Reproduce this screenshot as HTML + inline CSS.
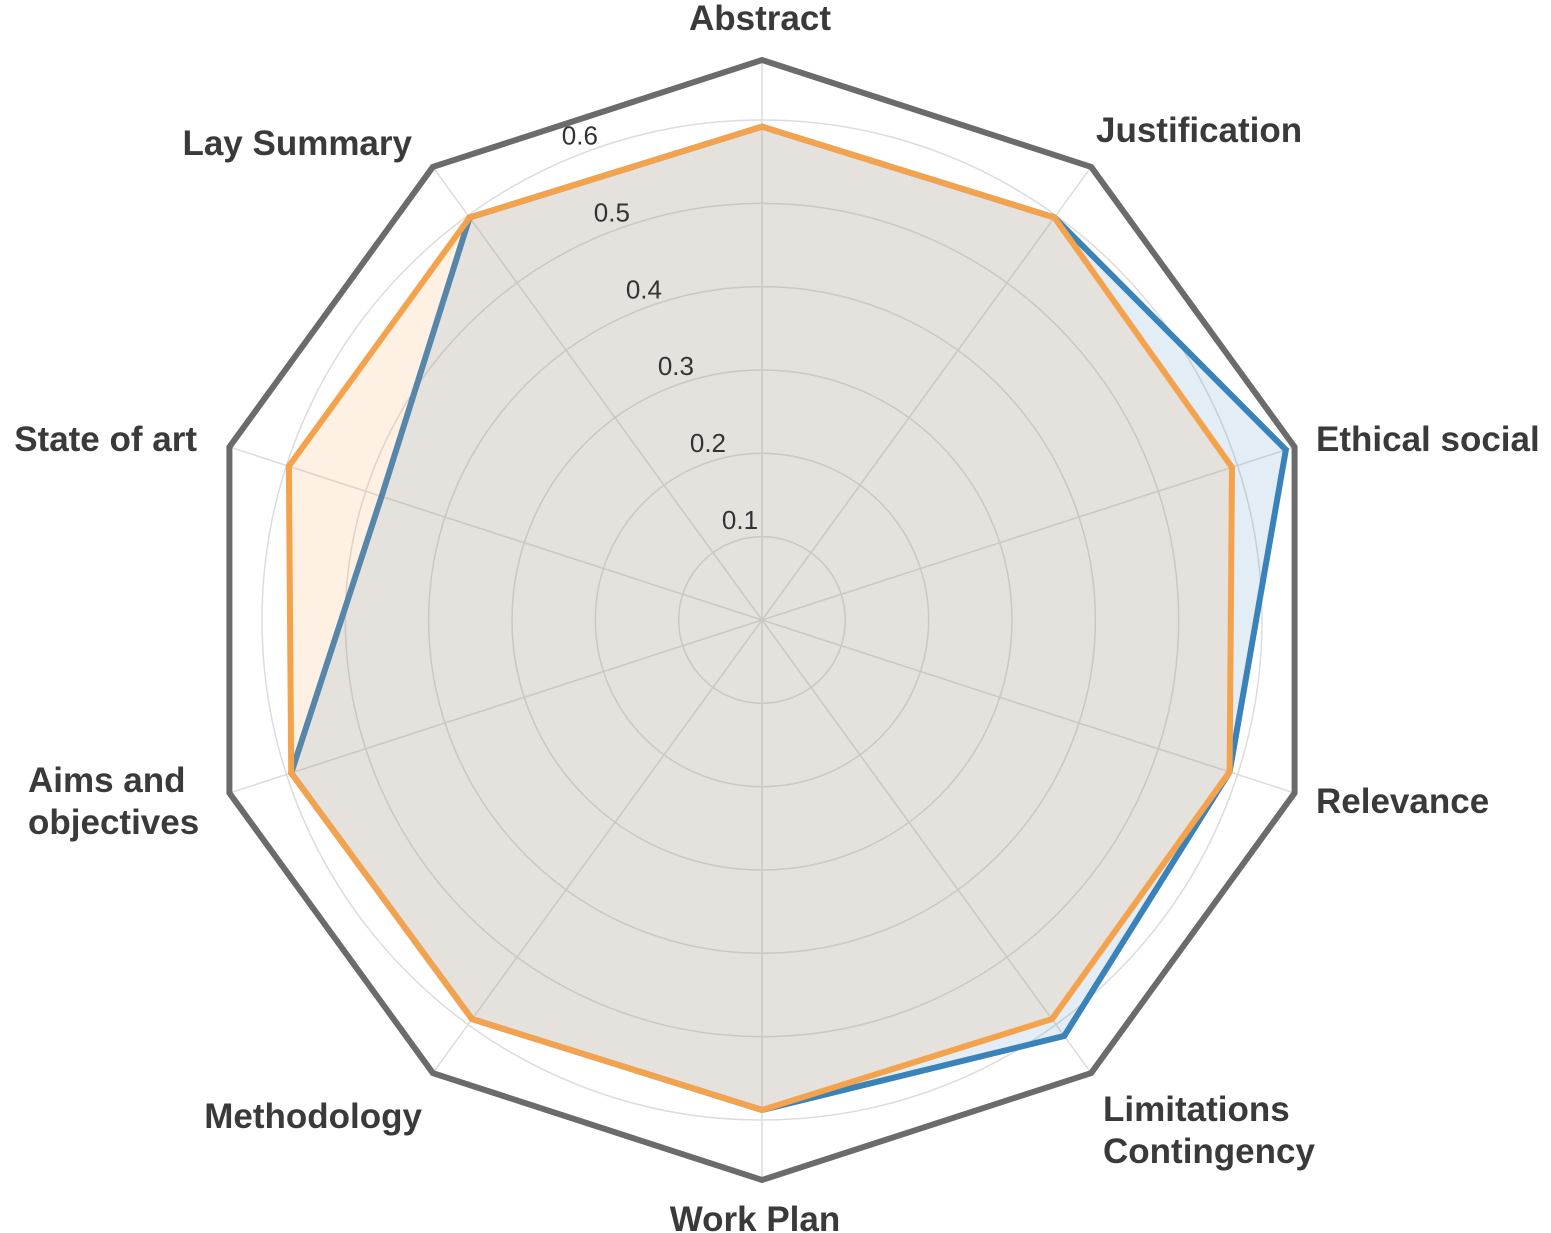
<!DOCTYPE html>
<html><head><meta charset="utf-8"><style>
html,body{margin:0;padding:0;background:#fff;}
svg{display:block;font-family:"Liberation Sans",sans-serif;}
.lbl{font-weight:bold;font-size:35px;fill:#3a3a3a;letter-spacing:0px;}
.tick{font-size:26px;fill:#333;}
</style></head><body>
<svg id="chart" width="1551" height="1233" viewBox="0 0 1551 1233">
<g id="grid"></g>
<g id="series"></g>
<g id="ticks"></g>
<g>
<text class="lbl" x="760" y="30" text-anchor="middle">Abstract</text>
<text class="lbl" x="1096" y="142">Justification</text>
<text class="lbl" x="1316" y="451">Ethical social</text>
<text class="lbl" x="1316" y="813">Relevance</text>
<text class="lbl" x="1103" y="1121">Limitations</text>
<text class="lbl" x="1103" y="1163">Contingency</text>
<text class="lbl" x="755" y="1231" text-anchor="middle">Work Plan</text>
<text class="lbl" x="422" y="1128" text-anchor="end">Methodology</text>
<text class="lbl" x="28" y="792">Aims and</text>
<text class="lbl" x="28" y="834">objectives</text>
<text class="lbl" x="197" y="451" text-anchor="end">State of art</text>
<text class="lbl" x="412" y="155" text-anchor="end">Lay Summary</text>
</g>
</svg>
<script>
const categories=["Abstract","Justification","Ethical social","Relevance","Limitations Contingency","Work Plan","Methodology","Aims and objectives","State of art","Lay Summary"];
const seriesBlue=[0.592,0.597,0.661,0.59,0.617,0.588,0.592,0.594,0.48,0.597];
const seriesOrange=[0.592,0.597,0.593,0.59,0.592,0.588,0.592,0.594,0.597,0.597];
const seriesMax=[0.672,0.672,0.672,0.672,0.672,0.672,0.672,0.672,0.672,0.672];
const tickValues=[0.1,0.2,0.3,0.4,0.5,0.6];
const tickLabels=["0.1","0.2","0.3","0.4","0.5","0.6"];
const CX=762,CY=620,PX_PER_UNIT=500/0.6;
const NS="http://www.w3.org/2000/svg";
function rScale(v){return v*PX_PER_UNIT;}
function angle(i){return -Math.PI/2+i*2*Math.PI/categories.length;}
function pt(i,v){const a=angle(i),r=rScale(v);return [CX+r*Math.cos(a),CY+r*Math.sin(a)];}
const grid=document.getElementById('grid');
tickValues.forEach((t,k)=>{
  const c=document.createElementNS(NS,'circle');
  
  
  c.setAttribute('cx',CX);c.setAttribute('cy',CY);c.setAttribute('r',rScale(t));
  c.setAttribute('fill','none');c.setAttribute('stroke','#dcdcdc');c.setAttribute('stroke-width','1.5');
  grid.appendChild(c);
});
categories.forEach((c,i)=>{
  const p=pt(i,seriesMax[i]);
  const l=document.createElementNS(NS,'line');
  
  
  l.setAttribute('x1',CX);l.setAttribute('y1',CY);l.setAttribute('x2',p[0]);l.setAttribute('y2',p[1]);
  l.setAttribute('stroke','#dcdcdc');l.setAttribute('stroke-width','1.5');
  grid.appendChild(l);
});
const sg=document.getElementById('series');
function poly(vals,fill,stroke,name){
  const p=document.createElementNS(NS,'polygon');
  
  
  p.setAttribute('points',vals.map((v,i)=>pt(i,v).join(',')).join(' '));
  p.setAttribute('fill',fill);p.setAttribute('stroke',stroke);p.setAttribute('stroke-width','6');
  p.setAttribute('stroke-linejoin','miter');
  sg.appendChild(p);
}
poly(seriesMax,'none','#6b6b6b','series-max');
poly(seriesBlue,'rgba(58,134,192,0.15)','#3a82ba','series-blue');
poly(seriesOrange,'rgba(245,160,74,0.15)','#f4a24c','series-orange');
const tg=document.getElementById('ticks');
const tickAng=-Math.PI/2-22.6*Math.PI/180;
tickValues.forEach((t,k)=>{
  const r=rScale(t);
  const x=CX+r*Math.cos(tickAng)+10,y=CY+r*Math.sin(tickAng)-14;
  const tx=document.createElementNS(NS,'text');
  
  
  tx.setAttribute('class','tick');tx.setAttribute('x',x);tx.setAttribute('y',y);tx.setAttribute('text-anchor','middle');
  tx.textContent=tickLabels[k];
  tg.appendChild(tx);
});
</script>
</body></html>
